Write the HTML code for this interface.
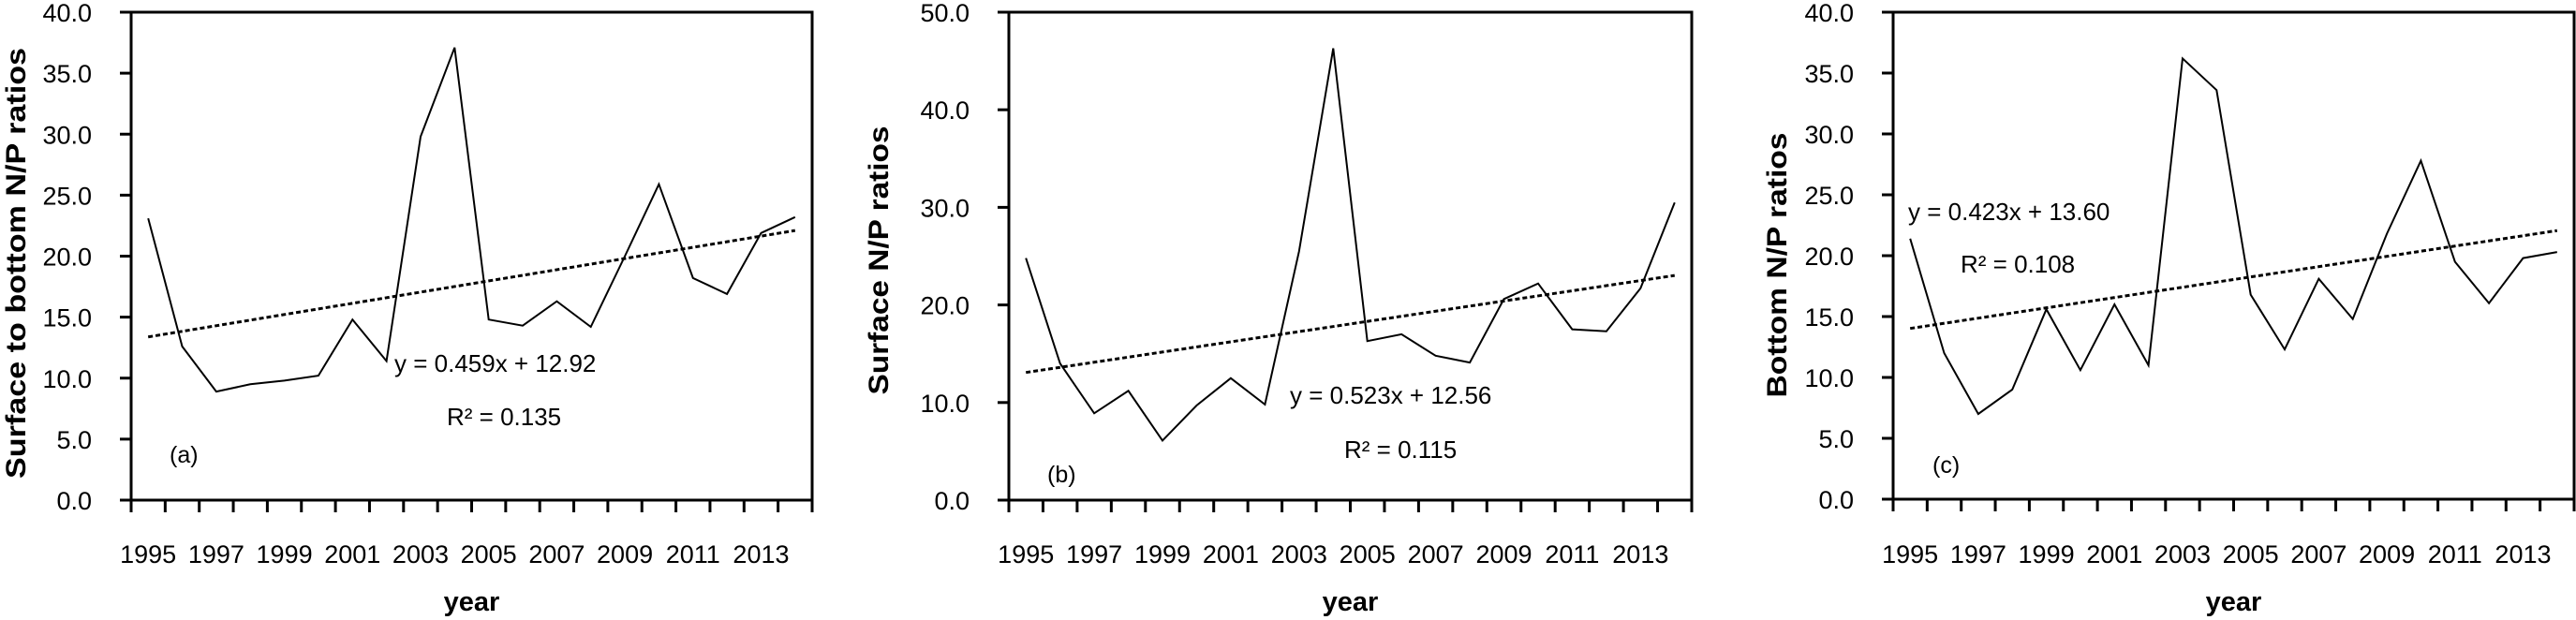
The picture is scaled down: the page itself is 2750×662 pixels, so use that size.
<!DOCTYPE html>
<html><head><meta charset="utf-8"><style>
html,body{margin:0;padding:0;background:#fff;}
svg{display:block;font-family:"Liberation Sans",sans-serif;}
</style></head><body>
<svg id="chart" width="2750" height="662" viewBox="0 0 2750 662" xmlns="http://www.w3.org/2000/svg"></svg>
<script>
const years = [1995,1996,1997,1998,1999,2000,2001,2002,2003,2004,2005,2006,2007,2008,2009,2010,2011,2012,2013,2014];
const seriesA = [23.1,12.6,8.9,9.5,9.8,10.2,14.8,11.4,29.8,37.1,14.8,14.3,16.3,14.2,20.0,25.9,18.2,16.9,21.9,23.2];
const seriesB = [24.8,14.0,8.9,11.2,6.1,9.7,12.5,9.8,25.5,46.3,16.3,17.0,14.8,14.1,20.6,22.2,17.5,17.3,21.7,30.5];
const seriesC = [21.4,12.0,7.0,9.0,15.6,10.6,16.0,11.0,36.2,33.6,16.8,12.3,18.1,14.8,21.8,27.8,19.5,16.1,19.8,20.3];
const trendA = [0.459,12.92];
const trendB = [0.523,12.56];
const trendC = [0.423,13.60];
const ticksA = [0,5,10,15,20,25,30,35,40];
const ticksB = [0,10,20,30,40,50];
const ticksC = [0,5,10,15,20,25,30,35,40];

const NS="http://www.w3.org/2000/svg";
const svg=document.getElementById('chart');
function mk(tag,attrs,parent){const e=document.createElementNS(NS,tag);for(const k in attrs)e.setAttribute(k,attrs[k]);(parent||svg).appendChild(e);return e;}

const panels=[
 {key:'a',x0:140,x1:867,yTop:13,yBot:534,max:40,ticks:ticksA,data:seriesA,trend:trendA,
  title:'Surface to bottom  N/P ratios',titleX:17,titleY:281,titleLen:460,
  eq:'y = 0.459x + 12.92',eqX:421,eqY:397,r2:'R² = 0.135',r2X:477,r2Y:454,lab:'(a)',labX:181,labY:494},
 {key:'b',x0:1077,x1:1806,yTop:13,yBot:534,max:50,ticks:ticksB,data:seriesB,trend:trendB,
  title:'Surface  N/P  ratios',titleX:938,titleY:278,titleLen:287,
  eq:'y = 0.523x + 12.56',eqX:1377,eqY:431,r2:'R² = 0.115',r2X:1435,r2Y:489,lab:'(b)',labX:1118,labY:515},
 {key:'c',x0:2021,x1:2748,yTop:13,yBot:533,max:40,ticks:ticksC,data:seriesC,trend:trendC,
  title:'Bottom  N/P  ratios',titleX:1897,titleY:283,titleLen:283,
  eq:'y = 0.423x + 13.60',eqX:2037,eqY:235,r2:'R² = 0.108',r2X:2093,r2Y:291,lab:'(c)',labX:2063,labY:505}
];

panels.forEach(p=>{
  const g=mk('g',{});
  
  
  const n=years.length, bw=(p.x1-p.x0)/n;
  const xs=i=>p.x0+bw*(i+0.5);
  const ys=v=>p.yBot-(v/p.max)*(p.yBot-p.yTop);
  const fr=mk('rect',{x:p.x0,y:p.yTop,width:p.x1-p.x0,height:p.yBot-p.yTop,fill:'none',stroke:'#000','stroke-width':3},g);
  
  
  p.ticks.forEach(t=>{
    const y=ys(t);
    mk('line',{x1:p.x0-12,x2:p.x0,y1:y,y2:y,stroke:'#000','stroke-width':3},g);
    const tx=mk('text',{x:p.x0-42,y:y+10,'text-anchor':'end','font-size':27},g);
    tx.textContent=t.toFixed(1);
    
    
  });
  for(let i=0;i<=n;i++){
    const x=p.x0+bw*i;
    mk('line',{x1:x,x2:x,y1:p.yBot,y2:p.yBot+13,stroke:'#000','stroke-width':3},g);
  }
  years.forEach((yr,i)=>{
    if(i%2===0){
      const tx=mk('text',{x:xs(i),y:601,'text-anchor':'middle','font-size':27},g);
      tx.textContent=yr;
      
      
    }
  });
  const xt=mk('text',{x:(p.x0+p.x1)/2,y:652,'text-anchor':'middle','font-size':29,'font-weight':'bold'},g);
  xt.textContent='year';
  
  
  const yt=mk('text',{x:0,y:0,'text-anchor':'middle','font-size':30,'font-weight':'bold',textLength:p.titleLen,lengthAdjust:'spacingAndGlyphs',transform:`translate(${p.titleX+10},${p.titleY}) rotate(-90)`},g);
  yt.textContent=p.title;
  
  
  const pts=p.data.map((v,i)=>xs(i).toFixed(1)+','+ys(v).toFixed(1)).join(' ');
  const ln=mk('polyline',{points:pts,fill:'none',stroke:'#000','stroke-width':2},g);
  
  
  const t0=p.trend[0]*1+p.trend[1], t1=p.trend[0]*n+p.trend[1];
  const tl=mk('line',{x1:xs(0),y1:ys(t0),x2:xs(n-1),y2:ys(t1),stroke:'#000','stroke-width':3,'stroke-dasharray':'5,3'},g);
  
  
  const eq=mk('text',{x:p.eqX,y:p.eqY,'font-size':26},g);
  eq.textContent=p.eq;
  
  
  const r2=mk('text',{x:p.r2X,y:p.r2Y,'font-size':26},g);
  r2.textContent=p.r2;
  
  
  const lb=mk('text',{x:p.labX,y:p.labY,'font-size':25},g);
  lb.textContent=p.lab;
  
  
});
</script>
</body></html>
